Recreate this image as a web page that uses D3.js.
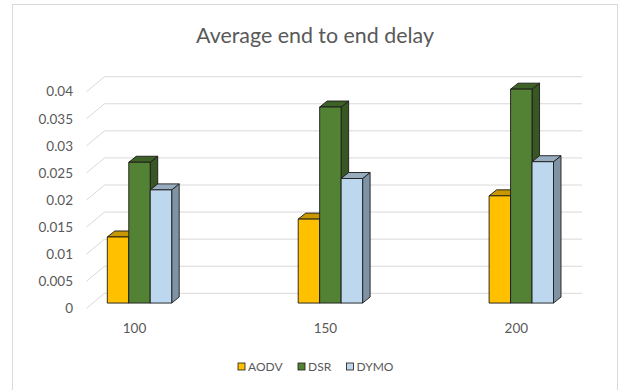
<!DOCTYPE html>
<html>
<head>
<meta charset="utf-8">
<script src="https://cdn.jsdelivr.net/npm/d3@7"></script>
<style>
  html, body { margin: 0; padding: 0; background: #fff; }
  svg { display: block; font-family: Lato, "Open Sans", sans-serif; }
</style>
</head>
<body>
<svg id="chart" width="620" height="390"></svg>
<script>
// Chart data
const categories = ["100", "150", "200"];
const seriesNames = ["AODV", "DSR", "DYMO"];
const aodv = [0.0122, 0.0155, 0.0198];
const dsr  = [0.0260, 0.0362, 0.0395];
const dymo = [0.0209, 0.0230, 0.0261];
const yTicks = [0, 0.005, 0.01, 0.015, 0.02, 0.025, 0.03, 0.035, 0.04];
const yTickLabels = ["0", "0.005", "0.01", "0.015", "0.02", "0.025", "0.03", "0.035", "0.04"];
const title = "Average end to end delay";

const seriesValues = [aodv, dsr, dymo];
const faceColors = [
  { front: "#FFC000", top: "#C99700", side: "#B88A00" },
  { front: "#548235", top: "#3E6127", side: "#385723" },
  { front: "#BDD7EE", top: "#97ACBF", side: "#8093A5" }
];

const svg = d3.select("#chart");

// Chart frame
svg.append("rect")
  .attr("x", 12.5).attr("y", 4.5)
  .attr("width", 605).attr("height", 400)
  .attr("fill", "#fff").attr("stroke", "#D9D9D9").attr("stroke-width", 1);

// Title
svg.append("text")
  .attr("x", 315).attr("y", 43)
  .attr("text-anchor", "middle")
  .attr("font-size", 21.4)
  .attr("fill", "#595959")
  .text(title);

// Geometry of the 3D box: back wall and depth offset to the front plane
const wallLeft = 104.5, wallRight = 582;
const depthDx = -18, depthDy = 15;
const y = d3.scaleLinear().domain([0, 0.04]).range([293.3, 76.7]);

// Bars sit at 65% of the depth towards the front
const barFrac = 0.65;
const barDy = depthDy * barFrac;
const barDepthX = 7.5, barDepthY = -6;

// Gridlines: back wall plus diagonal on the left side wall
const grid = svg.append("g").attr("stroke", "#D9D9D9").attr("stroke-width", 1).attr("fill", "none");
yTicks.forEach(t => {
  const yy = y(t);
  grid.append("path")
    .attr("d", `M${wallLeft + depthDx},${yy + depthDy}L${wallLeft},${yy}L${wallRight},${yy}`);
});

// Y tick labels on the front plane
svg.append("g").selectAll("text")
  .data(yTicks)
  .join("text")
  .attr("x", 73)
  .attr("y", d => y(d) + depthDy)
  .attr("dy", "0.35em")
  .attr("text-anchor", "end")
  .attr("font-size", 13.5)
  .attr("fill", "#595959")
  .text((d, i) => yTickLabels[i]);

// Category positions (centre of each cluster's front faces)
const xCat = d3.scalePoint().domain(categories).range([139.5, 521.3]);
const xSeries = d3.scaleBand().domain(seriesNames).range([-32.2, 32.2]).padding(0);

const bars = svg.append("g");
categories.forEach((cat, ci) => {
  seriesNames.forEach((s, si) => {
    const v = seriesValues[si][ci];
    const x0 = xCat(cat) + xSeries(s);
    const x1 = x0 + xSeries.bandwidth();
    const yb = y(0) + barDy;
    const yt = y(v) + barDy;
    const c = faceColors[si];
    const g = bars.append("g").attr("stroke", "#1a1a1a").attr("stroke-width", 0.9).attr("stroke-linejoin", "round");
    // side face
    g.append("path")
      .attr("d", `M${x1},${yb}L${x1 + barDepthX},${yb + barDepthY}L${x1 + barDepthX},${yt + barDepthY}L${x1},${yt}Z`)
      .attr("fill", c.side);
    // top face
    g.append("path")
      .attr("d", `M${x0},${yt}L${x0 + barDepthX},${yt + barDepthY}L${x1 + barDepthX},${yt + barDepthY}L${x1},${yt}Z`)
      .attr("fill", c.top);
    // front face
    g.append("rect")
      .attr("x", x0).attr("y", yt)
      .attr("width", x1 - x0).attr("height", yb - yt)
      .attr("fill", c.front);
  });
});

// Category labels on the front plane
svg.append("g").selectAll("text")
  .data(categories)
  .join("text")
  .attr("x", d => xCat(d) - 5)
  .attr("y", 333)
  .attr("text-anchor", "middle")
  .attr("font-size", 13.5)
  .attr("fill", "#595959")
  .text(d => d);

// Legend
const legendX = [238, 298, 346.5];
const legend = svg.append("g");
seriesNames.forEach((s, i) => {
  legend.append("rect")
    .attr("x", legendX[i]).attr("y", 363)
    .attr("width", 7).attr("height", 7)
    .attr("fill", faceColors[i].front)
    .attr("stroke", "#1a1a1a").attr("stroke-width", 0.8);
  legend.append("text")
    .attr("x", legendX[i] + 10).attr("y", 366.7)
    .attr("dy", "0.35em")
    .attr("font-size", 12)
    .attr("fill", "#595959")
    .text(s);
});
</script>
</body>
</html>
